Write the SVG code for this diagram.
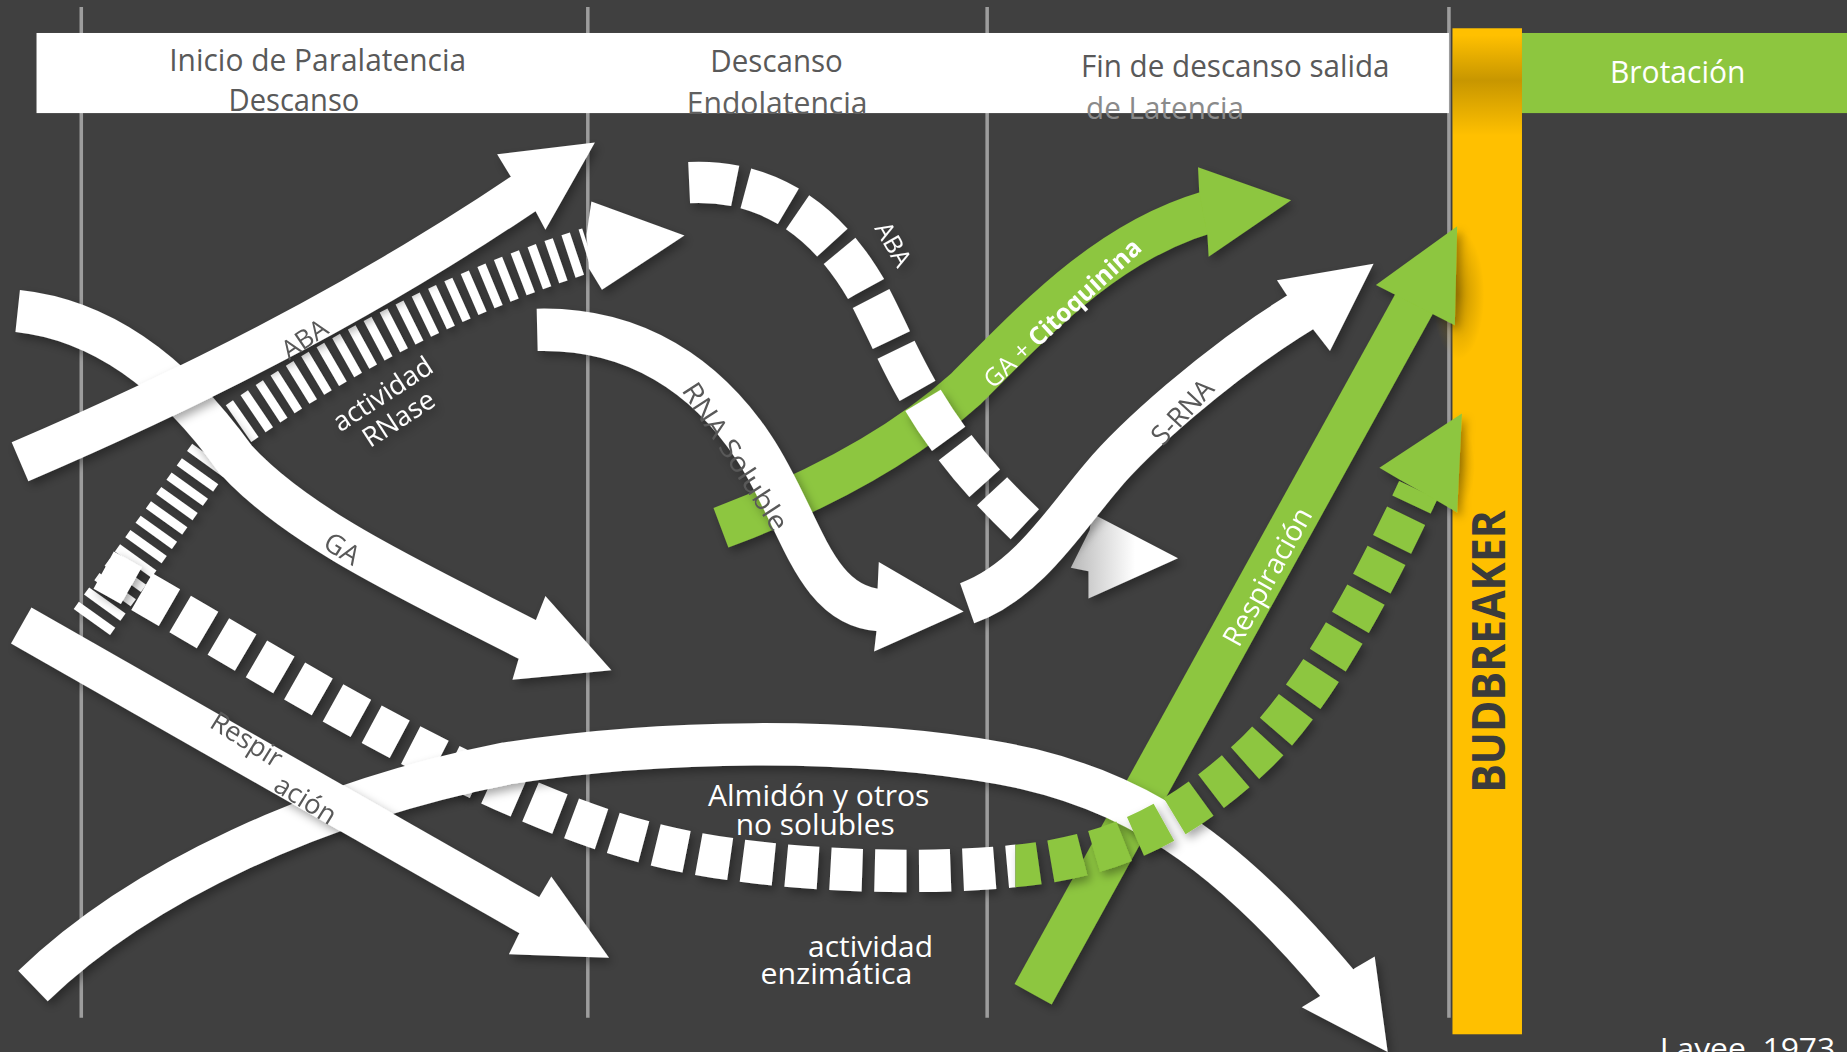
<svg xmlns="http://www.w3.org/2000/svg" width="1847" height="1052" viewBox="0 0 1847 1052">
<defs>
<style>
.vl{stroke:#9d9d9d;stroke-width:3}
.hd{font-family:"Open Sans","Liberation Sans",sans-serif;fill:#595959;font-size:26px}
.wb{fill:none;stroke:#fff;stroke-width:36}
.gb{fill:none;stroke:#8dc63f;stroke-width:36}
.wh{fill:#fff}
.gh{fill:#8dc63f}
.lbl{font-family:"Open Sans","Liberation Sans",sans-serif;fill:#595959;font-size:23px;text-anchor:middle;dominant-baseline:central}
.wl{font-family:"Open Sans","Liberation Sans",sans-serif;fill:#fff;font-size:23px;text-anchor:middle;dominant-baseline:central}
.wt{font-family:"Open Sans","Liberation Sans",sans-serif;fill:#fff;font-size:25px}
.ad{fill:none;stroke-width:36;stroke-dasharray:27 10.5}
</style>
<filter id="sh" x="-15%" y="-15%" width="135%" height="135%">
<feDropShadow dx="3" dy="4" stdDeviation="4" flood-color="#000" flood-opacity="0.35"/>
</filter>
<clipPath id="cw"><rect x="0" y="0" width="862" height="900"/></clipPath>
<clipPath id="cg"><rect x="862" y="0" width="500" height="900"/></clipPath>
<path id="almidon" d="M88,484 C200,545 400,680 560,718 C650,740 790,745 880,733 C960,722 1010,690 1060,645 C1110,600 1160,510 1204,416"/>
<linearGradient id="hg" x1="0" y1="0" x2="1" y2="0">
<stop offset="0" stop-color="#b9b9b9"/><stop offset="0.6" stop-color="#fff"/>
</linearGradient>
<linearGradient id="ytop" x1="0" y1="0" x2="0" y2="1">
<stop offset="0" stop-color="#9a7400" stop-opacity="0"/><stop offset="0.45" stop-color="#9a7400" stop-opacity="0.55"/><stop offset="1" stop-color="#9a7400" stop-opacity="0"/>
</linearGradient>
<radialGradient id="ysh">
<stop offset="0" stop-color="#9a7400" stop-opacity="0.6"/><stop offset="1" stop-color="#9a7400" stop-opacity="0"/>
</radialGradient>
</defs>
<rect x="0" y="0" width="1847" height="1052" fill="#404040"/>
<g transform="scale(1.178)">
<g id="lines">
<line class="vl" x1="69" y1="6" x2="69" y2="864"/>
<line class="vl" x1="499" y1="6" x2="499" y2="864"/>
<line class="vl" x1="838" y1="6" x2="838" y2="864"/>
<line class="vl" x1="1230" y1="6" x2="1230" y2="864"/>
</g>
<g id="header">
<rect x="31" y="28" width="1199" height="68" fill="#fff"/>
<text class="hd" x="143.7" y="60" textLength="252" lengthAdjust="spacingAndGlyphs">Inicio de Paralatencia</text>
<text class="hd" x="194" y="94.5" textLength="111" lengthAdjust="spacingAndGlyphs">Descanso</text>
<text class="hd" x="603" y="61.5" textLength="112.5" lengthAdjust="spacingAndGlyphs">Descanso</text>
<text class="hd" x="583" y="96.5" textLength="153.5" lengthAdjust="spacingAndGlyphs" style="fill:#606060">Endolatencia</text>
<text class="hd" x="917.6" y="65.6" textLength="262" lengthAdjust="spacingAndGlyphs">Fin de descanso salida</text>
<text class="hd" x="922" y="101" textLength="134" lengthAdjust="spacingAndGlyphs" style="fill:#8a8a8a">de Latencia</text>
</g>
<g id="brotacion">
<rect x="1292" y="28" width="280" height="68" fill="#8dc63f"/>
<text class="wt" x="1366.7" y="70.5" textLength="115" lengthAdjust="spacingAndGlyphs" style="font-size:27px">Brotación</text>
</g>
<g id="budbreaker">
<rect x="1233" y="24" width="59" height="854" fill="#ffc000"/>
<rect x="1233" y="30" width="59" height="85" fill="url(#ytop)"/>
<ellipse cx="1238" cy="250" rx="22" ry="55" fill="url(#ysh)"/>
<ellipse cx="1238" cy="395" rx="14" ry="35" fill="url(#ysh)" opacity="0.6"/>
<text transform="translate(1278,553) rotate(-90)" text-anchor="middle" font-family="'Open Sans','Liberation Sans',sans-serif" font-weight="bold" font-size="40" fill="#3b3b3b" textLength="240" lengthAdjust="spacingAndGlyphs">BUDBREAKER</text>
</g>
<g id="arrows">
<g id="rnase-stripes" filter="url(#sh)">
<path d="M78,528 L195,365 C275,308 380,250 500,212" fill="none" stroke="#fff" stroke-width="38" stroke-dasharray="7.5 7.5"/>
<polygon class="wh" points="498,199 502,171 581,200 511,246 500,228"/>
<g transform="translate(331,344) rotate(-33)">
<text class="wl" x="0" y="-12.5">actividad</text>
<text class="wl" x="0" y="12.5">RNase</text>
</g>
</g>
<g id="arrow-ga" filter="url(#sh)">
<path class="wb" d="M15,264 C90,272 150,320 200,390 C255,450 355,495 452,545"/>
<polygon class="wh" points="455,526 463,506 519,569 435,577 440,560"/>
<text class="lbl" transform="translate(291,465) rotate(32)">GA</text>
</g>
<g id="arrow-aba" filter="url(#sh)">
<path class="wb" d="M17,392 C150,335 300,262 448,162"/>
<polygon class="wh" points="433,149 422,131 505,121 463,195 455,180"/>
<text class="lbl" transform="translate(258,287) rotate(-34)" style="font-size:22px">ABA</text>
</g>
<g id="arrow-respiracion-verde" filter="url(#sh)">
<path class="gb" d="M877,844 L1202,255"/>
<polygon class="gh" points="1184,250 1168,242 1237,192 1235,276 1217,267"/>
<text class="wl" transform="translate(1075,489) rotate(-61)" style="font-size:24px">Respiración</text>
</g>
<g id="arrow-ga-citoquinina" filter="url(#sh)">
<path class="gb" d="M612,448 C700,415 770,375 820,330 C880,270 940,205 1025,180"/>
<polygon class="gh" points="1018,163 1017,142 1096,170 1026,218 1025,200"/>
<text class="wl" transform="translate(901,265) rotate(-43)" style="font-size:21px" textLength="174" lengthAdjust="spacingAndGlyphs"><tspan>GA + </tspan><tspan font-weight="bold">Citoquinina</tspan></text>
</g>
<g id="arrow-rna-soluble" filter="url(#sh)">
<path class="wb" d="M456,280 C540,278 600,320 640,380 C680,440 690,515 748,518"/>
<polygon class="wh" points="745,499 746,477 818,519 742,553 744,536"/>
<text class="lbl" transform="translate(625,387) rotate(57)" textLength="145" lengthAdjust="spacingAndGlyphs">RNA Soluble</text>
</g>
<g id="arrow-aba-dashed" filter="url(#sh)">
<path d="M585,155 C650,152 700,185 735,245 C765,300 780,360 870,445" pathLength="414" fill="none" stroke="#fff" stroke-width="35" stroke-dasharray="38 9"/>
<polygon points="927,436 1000,474 924,508 924,485 909,482 925,450" fill="url(#hg)"/>
<text class="wl" transform="translate(759,207) rotate(60)" style="font-size:21px">ABA</text>
</g>
<g id="arrow-s-rna" filter="url(#sh)">
<path class="wb" d="M821,512 C872,494 905,440 935,405 C960,375 1030,310 1107,263"/>
<polygon class="wh" points="1092,250 1084,238 1166,224 1129,298 1115,280"/>
<text class="lbl" transform="translate(1003,349) rotate(-47)">S-RNA</text>
</g>
<g id="arrow-almidon-white" filter="url(#sh)">
<use href="#almidon" class="ad" stroke="#fff" clip-path="url(#cw)"/>
</g>
<g id="arrow-enzimatica" filter="url(#sh)">
<path class="wb" d="M28,837 C120,748 270,680 430,648 C560,628 720,625 850,648 C960,668 1040,720 1138,838"/>
<polygon class="wh" points="1120,846 1105,855 1178,893 1167,812 1150,822"/>
</g>
<g id="arrow-respiracion" filter="url(#sh)">
<path d="M18,531 L453,779" fill="none" stroke="#fff" stroke-width="35"/>
<polygon class="wh" points="458,761 468,744 517,813 432,810 440,794"/>
<text class="lbl" transform="translate(210,627) rotate(32)">Respir</text>
<text class="lbl" transform="translate(260,678) rotate(32)">ación</text>
</g>
<g id="arrow-almidon-green" filter="url(#sh)">
<use href="#almidon" class="ad" stroke="#8dc63f" clip-path="url(#cg)"/>
<polygon class="gh" points="1188,407 1171,397 1241,351 1237,435 1220,425"/>
</g>
</g>
<g id="labels">
<text class="wt" x="695" y="684" text-anchor="middle" textLength="188" lengthAdjust="spacingAndGlyphs">Almidón y otros</text>
<text class="wt" x="692" y="709" text-anchor="middle" textLength="135" lengthAdjust="spacingAndGlyphs">no solubles</text>
<text class="wt" x="739" y="812" text-anchor="middle" textLength="106" lengthAdjust="spacingAndGlyphs">actividad</text>
<text class="wt" x="710" y="835" text-anchor="middle" textLength="129" lengthAdjust="spacingAndGlyphs">enzimática</text>
<text class="wt" x="1409" y="899" textLength="149" lengthAdjust="spacingAndGlyphs" style="font-size:24px">Layee, 1973</text>
</g>
</g>
</svg>
